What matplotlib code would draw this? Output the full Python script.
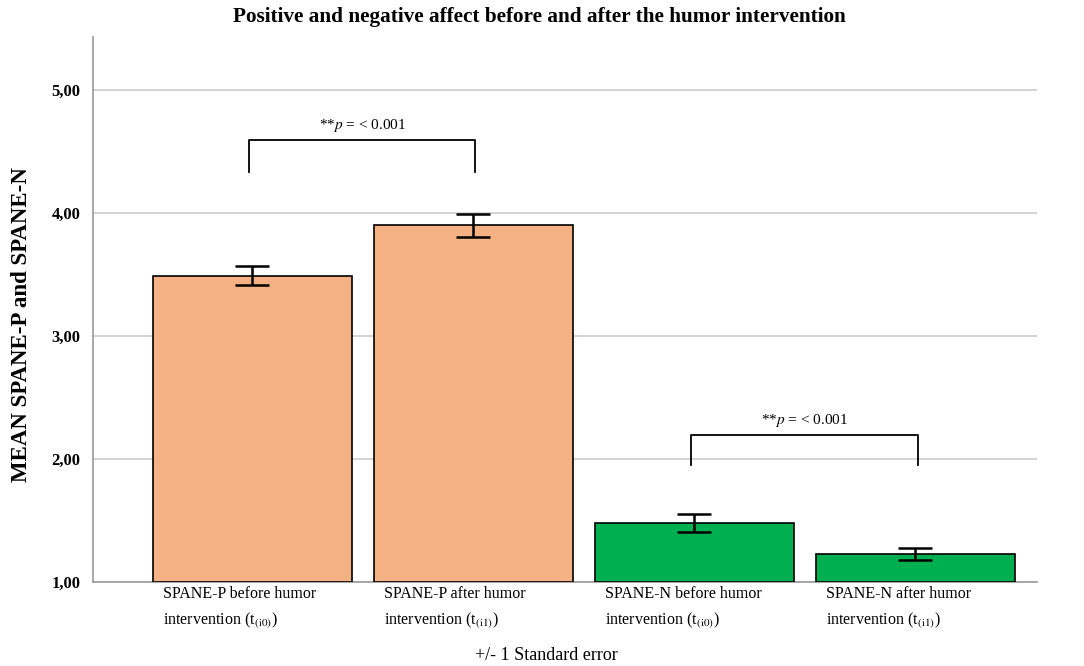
import matplotlib.pyplot as plt
import numpy as np

plt.rcParams['font.family'] = ['Liberation Serif', 'DejaVu Serif']
plt.rcParams['mathtext.fontset'] = 'stix'

# ── data ──
labels = ['SPANE-P before humor\nintervention (t$_{\\mathrm{(i0)}}$)',
          'SPANE-P after humor\nintervention (t$_{\\mathrm{(i1)}}$)',
          'SPANE-N before humor\nintervention (t$_{\\mathrm{(i0)}}$)',
          'SPANE-N after humor\nintervention (t$_{\\mathrm{(i1)}}$)']
means = [3.49, 3.90, 1.48, 1.23]
se = [0.075, 0.095, 0.07, 0.05]
colors = ['#F4B183', '#F4B183', '#00B050', '#00B050']
yticks = [1.0, 2.0, 3.0, 4.0, 5.0]
ytick_labels = ['1,00', '2,00', '3,00', '4,00', '5,00']
base = 1.0

fig = plt.figure(figsize=(10.84, 6.66), dpi=100)
ax = fig.add_axes([0.0858, 0.1261, 0.8708, 0.8183])

x = np.arange(len(means))
heights = [m - base for m in means]
ax.bar(x, heights, bottom=base, width=0.9, color=colors,
       edgecolor='black', linewidth=1.2, zorder=3)
ax.errorbar(x, means, yerr=se, fmt='none', ecolor='black',
            elinewidth=1.8, capsize=12, capthick=1.8, zorder=4)

ax.set_xlim(-0.72, 3.55)
ax.set_ylim(1.0, 5.43)
ax.set_yticks(yticks)
ax.set_yticklabels(ytick_labels, fontsize=12, fontweight='bold')
ax.tick_params(axis='y', length=0, pad=9)
ax.set_xticks([])
ax.grid(axis='y', color='#cccccc', linewidth=1.2, zorder=0)
ax.set_axisbelow(True)
for s in ['top', 'right']:
    ax.spines[s].set_visible(False)
ax.spines['left'].set_color('#999999')
ax.spines['bottom'].set_color('#999999')
ax.spines['left'].set_linewidth(1.2)
ax.spines['bottom'].set_linewidth(1.2)

# x labels under each bar, left aligned
for xi, lab in zip(x, labels):
    ax.text(xi - 0.405, 0.965, lab, fontsize=11.5, ha='left', va='top',
            transform=ax.transData, linespacing=1.55)

# significance brackets
def bracket(x1, x2, top, leg, txt_y):
    ax.plot([x1, x1, x2, x2], [leg, top, top, leg], color='black',
            linewidth=1.3, zorder=5)
    ax.text((x1 + x2) / 2, txt_y, r'**$\it{p}$ = < 0.001', fontsize=11,
            ha='center', va='bottom')

bracket(-0.015, 1.01, 4.59, 4.33, 4.64)
bracket(1.985, 3.01, 2.195, 1.95, 2.245)

ax.set_ylabel('MEAN SPANE-P and SPANE-N', fontsize=16.5, fontweight='bold')
ax.yaxis.set_label_coords(-0.065, 0.472)
fig.text(0.498, 0.975,
         'Positive and negative affect before and after the humor intervention',
         fontsize=15.3, fontweight='bold', ha='center', va='center')
fig.text(0.504, 0.0165, '+/- 1 Standard error', fontsize=13, ha='center',
         va='center')

plt.savefig('out.png', dpi=100)
plt.close()
